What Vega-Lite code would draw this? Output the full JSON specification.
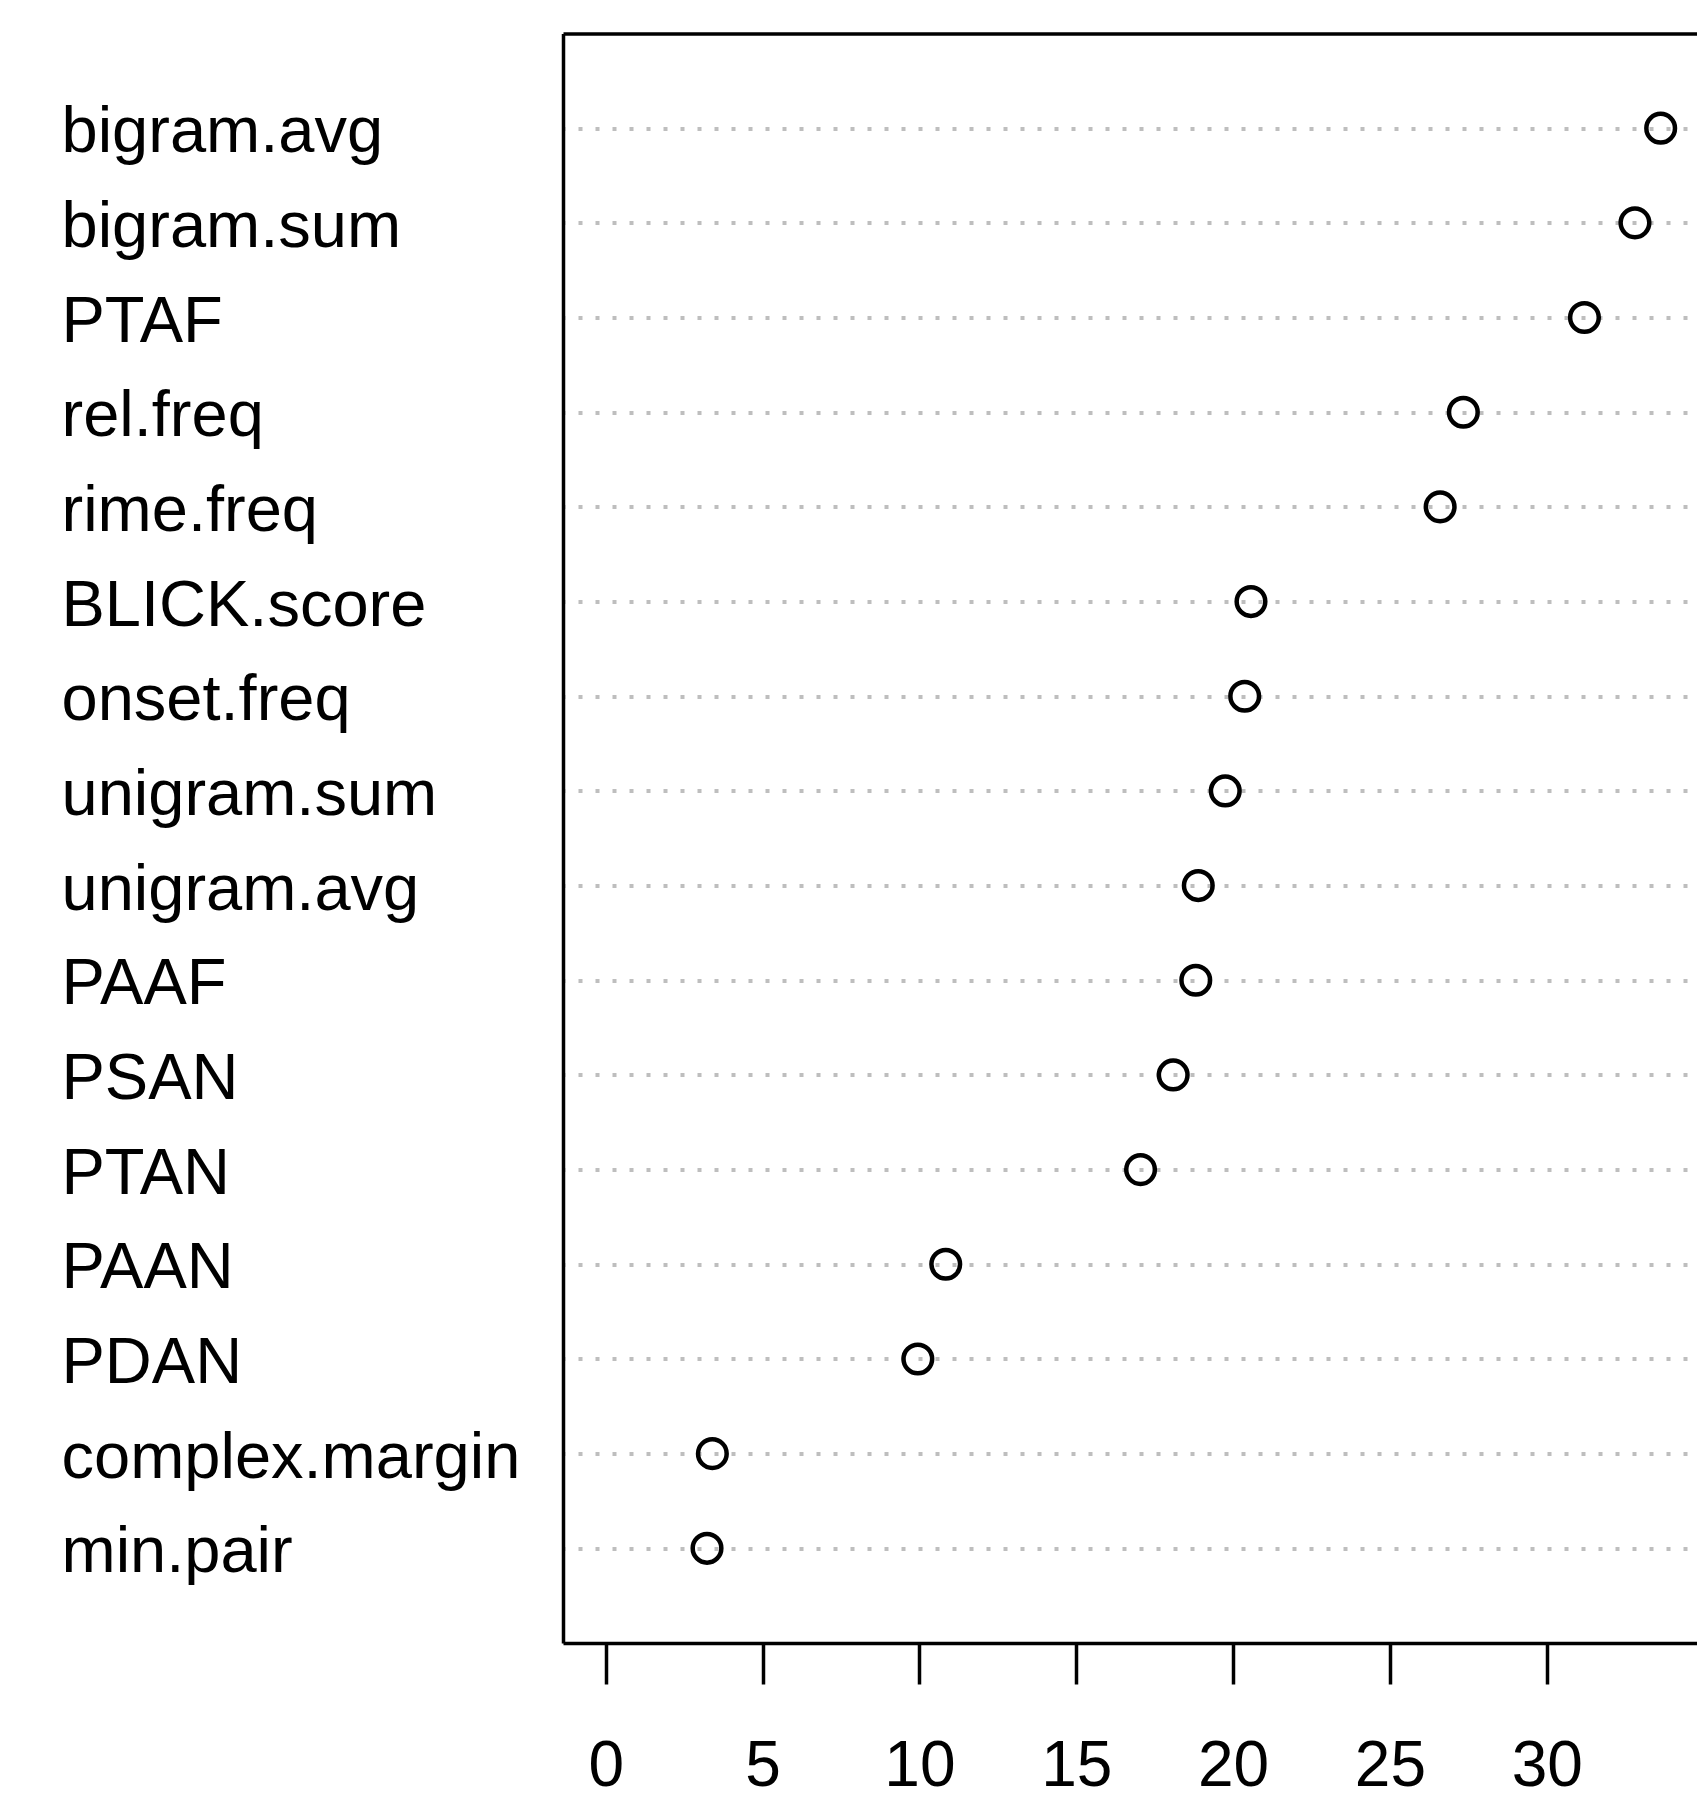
{
  "$schema": "https://vega.github.io/schema/vega-lite/v6.json",
  "autosize": {"type": "none"},
  "padding": {"left": 563, "top": 33.5, "right": 0, "bottom": 156},
  "width": 1134,
  "height": 1609.5,
  "background": "white",
  "config": {
    "view": {"stroke": null},
    "font": "Liberation Sans"
  },
  "data": {
    "values": [
      {"variable": "bigram.avg", "value": 33.63},
      {"variable": "bigram.sum", "value": 32.81},
      {"variable": "PTAF", "value": 31.2},
      {"variable": "rel.freq", "value": 27.34},
      {"variable": "rime.freq", "value": 26.6},
      {"variable": "BLICK.score", "value": 20.57},
      {"variable": "onset.freq", "value": 20.37},
      {"variable": "unigram.sum", "value": 19.75},
      {"variable": "unigram.avg", "value": 18.89},
      {"variable": "PAAF", "value": 18.81},
      {"variable": "PSAN", "value": 18.09},
      {"variable": "PTAN", "value": 17.05},
      {"variable": "PAAN", "value": 10.84},
      {"variable": "PDAN", "value": 9.95},
      {"variable": "complex.margin", "value": 3.4},
      {"variable": "min.pair", "value": 3.23}
    ]
  },
  "layer": [
    {
      "mark": {"type": "point", "shape": "circle", "filled": false, "stroke": "black", "strokeWidth": 4.5, "size": 820, "opacity": 1},
      "encoding": {
        "x": {
          "field": "value", "type": "quantitative",
          "scale": {"domain": [-1.361, 34.788], "nice": false, "zero": false},
          "axis": {
            "orient": "bottom", "title": null, "values": [0, 5, 10, 15, 20, 25, 30],
            "grid": false, "domain": true, "domainColor": "black", "domainWidth": 3.5,
            "ticks": true, "tickSize": 41, "tickWidth": 3.5, "tickColor": "black",
            "labelFontSize": 64, "labelColor": "black", "labelBaseline": "alphabetic",
            "labelPadding": 101, "labelFlush": false, "labelOverlap": false, "labelFont": "Liberation Sans"
          }
        },
        "y": {
          "field": "variable", "type": "nominal", "sort": null,
          "scale": {"type": "point", "padding": 1},
          "axis": {
            "title": null, "domain": true, "domainColor": "black", "domainWidth": 3.5,
            "ticks": false, "grid": true, "gridColor": "#bebebe", "gridWidth": 4,
            "gridDash": [4, 13], "gridDashOffset": 2,
            "labelAlign": "left", "labelPadding": 502, "labelFontSize": 65,
            "labelColor": "black", "labelBaseline": "alphabetic", "labelOffset": 23.5,
            "labelOverlap": false, "labelFont": "Liberation Sans", "labelLimit": 0
          }
        }
      }
    },
    {
      "mark": {"type": "point", "opacity": 0},
      "encoding": {
        "x": {
          "field": "value", "type": "quantitative",
          "axis": {"orient": "top", "title": null, "grid": false, "ticks": false, "labels": false, "domain": true, "domainColor": "black", "domainWidth": 3.5}
        },
        "y": {"field": "variable", "type": "nominal", "sort": null, "axis": null}
      }
    }
  ],
  "resolve": {"axis": {"x": "independent", "y": "independent"}}
}
